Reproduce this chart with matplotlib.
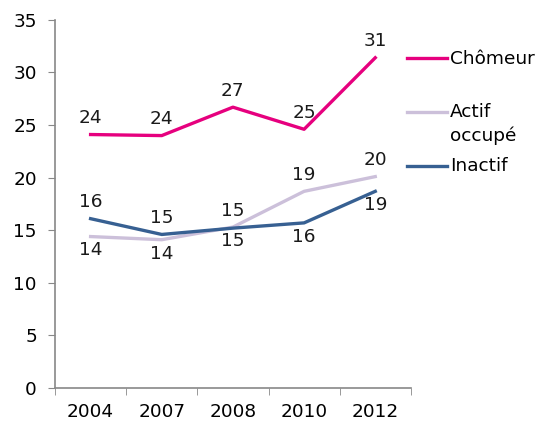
import matplotlib.pyplot as plt

# data
years = ['2004', '2007', '2008', '2010', '2012']
chomeur = [24.1, 24.0, 26.7, 24.6, 31.4]
actif = [14.4, 14.1, 15.3, 18.7, 20.1]
inactif = [16.1, 14.6, 15.2, 15.7, 18.7]

chomeur_lbl = [24, 24, 27, 25, 31]
actif_lbl = [14, 14, 15, 19, 20]
inactif_lbl = [16, 15, 15, 16, 19]

plt.rcParams['font.family'] = ['DejaVu Sans']
fig = plt.figure(figsize=(5.42, 4.23), dpi=100)
ax = fig.add_axes([0.1015, 0.0827, 0.6565, 0.8703])

x = list(range(len(years)))
ax.plot(x, chomeur, color='#E6007E', lw=2.4, label='Chômeur\n ')
ax.plot(x, actif, color='#CCC0DA', lw=2.4, label='Actif\noccupé')
ax.plot(x, inactif, color='#376092', lw=2.4, label='Inactif\n ')

# data labels: above or below depending on the series
fs = 13.3
txt = '#1a1a1a'


def put(lbl, y, i, above):
    ax.annotate(str(lbl), (i, y), xytext=(0, 12 if above else -10), textcoords='offset points',
                ha='center', va='center', fontsize=fs, color=txt)


for i in x:
    put(chomeur_lbl[i], chomeur[i], i, True)
    put(actif_lbl[i], actif[i], i, i >= 3)
    put(inactif_lbl[i], inactif[i], i, i < 3)

ax.set_xlim(-0.5, len(years) - 0.5)
ax.set_ylim(0, 35)
ax.set_yticks(range(0, 36, 5))
ax.set_xticks(x)
ax.set_xticklabels(years)
ax.set_xticks([i - 0.5 for i in range(len(years) + 1)], minor=True)
ax.tick_params(axis='x', which='major', length=0, pad=11, labelsize=fs)
ax.tick_params(axis='x', which='minor', length=5, color='#888888')
ax.tick_params(axis='y', length=5, color='#888888', labelsize=fs, pad=8)

for s in ['top', 'right']:
    ax.spines[s].set_visible(False)
for s in ['left', 'bottom']:
    ax.spines[s].set_color('#888888')
    ax.spines[s].set_linewidth(1.2)

leg = ax.legend(loc='upper left', bbox_to_anchor=(0.99, 0.919), frameon=False, fontsize=fs,
                handlelength=2.15, handletextpad=0.15, labelspacing=0.7, borderaxespad=0,
                borderpad=0)
for t in leg.get_texts():
    t.set_linespacing(1.33)
# put each legend line next to the first text line, like the original
for h in leg.legend_handles:
    h.set_ydata([v + 0.68 * fs for v in h.get_ydata()])

fig.savefig('out.png', dpi=100)
